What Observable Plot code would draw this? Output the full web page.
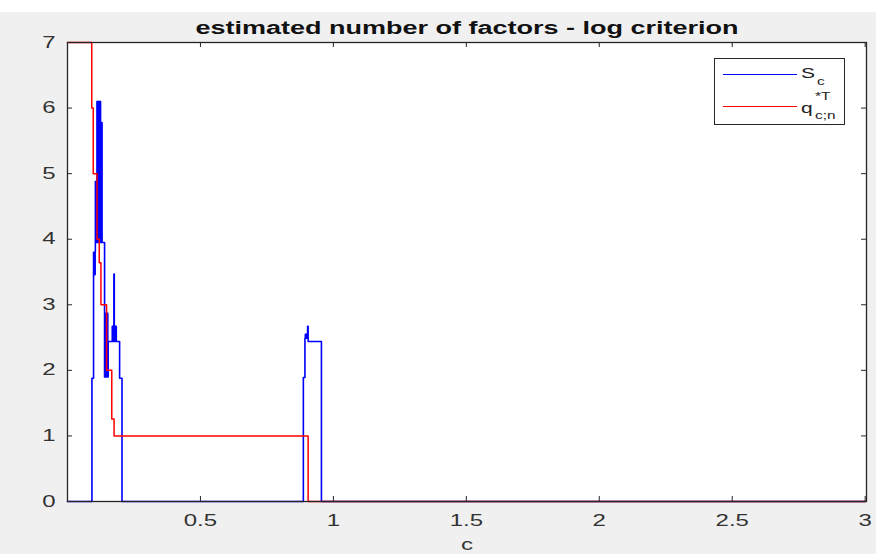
<!DOCTYPE html>
<html>
<head>
<meta charset="utf-8">
<script src="https://cdn.jsdelivr.net/npm/d3@7"></script>
<script src="https://cdn.jsdelivr.net/npm/@observablehq/plot@0.6"></script>
<style>
  html, body { margin: 0; padding: 0; background: #f0f0f0; }
  #wrap { position: relative; width: 876px; height: 554px; overflow: hidden; background: #f0f0f0; font-family: "Liberation Sans", Arial, sans-serif; }
  #topstrip { position: absolute; left: 0; top: 0; width: 876px; height: 12px; background: #ffffff; }
  #chart { position: absolute; left: 0; top: 0; }
  .title { position: absolute; left: 466.5px; top: 19px; font-size: 18px; line-height: 1; font-weight: bold; color: #111; white-space: nowrap; transform: translateX(-50%) scaleX(1.5); transform-origin: center; }
  .xlabel { position: absolute; left: 466.5px; top: 537px; font-size: 16px; line-height: 1; color: #333; transform: translateX(-50%) scaleX(1.5); }
  .legend { position: absolute; left: 714px; top: 58px; width: 131px; height: 67px; border: 1px solid #262626; background: #fff; box-sizing: border-box; }
  .lg-line { position: absolute; left: 8px; width: 74px; height: 0; border-top: 1.3px solid; }
  .lg-txt { position: absolute; font-size: 15px; line-height: 1; color: #222; transform: scaleX(1.4); transform-origin: left center; white-space: nowrap; }
  .lg-small { position: absolute; font-size: 11px; line-height: 1; color: #222; transform: scaleX(1.4); transform-origin: left center; white-space: nowrap; }
</style>
</head>
<body>
<div id="wrap">
  <div id="topstrip"></div>
  <div id="chart"></div>
  <div class="title">estimated number of factors - log criterion</div>
  <div class="xlabel">c</div>
  <div class="legend">
    <div class="lg-line" style="top:15px;border-color:#0000ff"></div>
    <div class="lg-txt" style="left:86px;top:6px">S</div>
    <div class="lg-small" style="left:102px;top:17px">c</div>
    <div class="lg-line" style="top:47px;border-color:#ff0000"></div>
    <div class="lg-txt" style="left:86px;top:41px">q</div>
    <div class="lg-small" style="left:100px;top:32px">*T</div>
    <div class="lg-small" style="left:100px;top:51px">c;n</div>
  </div>
</div>
<script>
// ---- data ----
// S_c : estimated number of factors (blue), as (c, value) pairs along the path
const scC = [0, 0.0919, 0.0980, 0.0999, 0.1018, 0.1029, 0.1040, 0.1048, 0.1063, 0.1074, 0.1085, 0.1100,
  0.1108, 0.1123, 0.1138, 0.1153, 0.1168, 0.1183, 0.1198, 0.1213, 0.1228, 0.1243, 0.1258, 0.1273, 0.1289,
  0.1300, 0.1394, 0.1409, 0.1424, 0.1439, 0.1454, 0.1470, 0.1485, 0.1500, 0.1515, 0.1530,
  0.1684, 0.1700, 0.1715, 0.1730, 0.1745, 0.1760, 0.1775, 0.1790, 0.1805, 0.1820, 0.1835,
  0.1960, 0.2050, 0.8870, 0.8930, 0.8945, 0.8960, 0.8975, 0.8990, 0.9000, 0.9030, 0.9050, 0.9550, 3.0];
const scV = [0, 1.88, 3.80, 3.46, 3.80, 3.46, 3.80, 4.88, 3.95, 4.88, 3.95, 4.88,
  6.10, 3.95, 6.10, 3.95, 6.10, 3.95, 6.10, 5.78, 6.10, 3.95, 5.78, 3.95, 5.78,
  3.95, 1.90, 2.87, 1.90, 2.87, 1.90, 2.87, 1.90, 2.87, 1.90, 2.44,
  2.67, 2.44, 2.67, 2.44, 3.47, 2.67, 2.44, 2.67, 2.44, 2.67, 2.44,
  1.88, 0, 1.89, 2.49, 2.55, 2.49, 2.55, 2.49, 2.55, 2.67, 2.44, 0, 0];
// q*T_{c;n} (red)
const qC = [0, 0.0912, 0.0968, 0.1111, 0.1194, 0.1258, 0.1470, 0.1665, 0.1752, 0.9050, 3.0];
const qV = [7, 6, 5, 4, 3.64, 3, 2, 1.26, 1, 0, 0];

const xTicks = [0.5, 1, 1.5, 2, 2.5, 3];
const yTicks = [0, 1, 2, 3, 4, 5, 6, 7];

const scData = scC.map((c, i) => ({c, v: scV[i]}));
const qData = qC.map((c, i) => ({c, v: qV[i]}));

const W = 876, H = 554, mL = 67, mR = 10, mT = 42, mB = 53;
const pw = W - mL - mR, ph = H - mT - mB;
const axisColor = "#262626";

const plot = Plot.plot({
  width: W, height: H,
  marginLeft: mL, marginRight: mR, marginTop: mT, marginBottom: mB,
  style: {background: "transparent", fontFamily: "Liberation Sans, Arial, sans-serif", fontSize: "16px", color: "#333"},
  x: {domain: [0, 3.005], label: null},
  y: {domain: [0, 7], label: null},
  marks: [
    Plot.frame({fill: "white", stroke: "none"}),
    Plot.line(scData, {x: "c", y: "v", curve: "step-after", stroke: "#0000ff", strokeWidth: 1.6}),
    Plot.line(qData, {x: "c", y: "v", curve: "step-after", stroke: "#ff0000", strokeWidth: 1.5}),
    Plot.frame({stroke: axisColor, strokeWidth: 1.3}),
    Plot.ruleX(xTicks, {x: d => d, insetTop: ph - 5, stroke: axisColor}),
    Plot.ruleX(xTicks, {x: d => d, insetBottom: ph - 5, stroke: axisColor}),
    Plot.ruleY(yTicks, {y: d => d, insetRight: pw - 5, stroke: axisColor}),
    Plot.ruleY(yTicks, {y: d => d, insetLeft: pw - 5, stroke: axisColor}),
    Plot.axisX(xTicks, {anchor: "bottom", tickSize: 0, tickPadding: 13, label: null, tickFormat: d => String(d), fontSize: 16, fill: "#333"}),
    Plot.axisY(yTicks, {anchor: "left", tickSize: 0, tickPadding: 12, label: null, tickFormat: d => String(d), fontSize: 16, fill: "#333"})
  ]
});
document.getElementById("chart").appendChild(plot);

// widen the tick labels horizontally like the reference image
plot.querySelectorAll("g[aria-label$='tick label'] text").forEach(t => {
  const tr = t.getAttribute("transform") || "";
  t.setAttribute("transform", tr + " scale(1.5,1)");
});
</script>
</body>
</html>
